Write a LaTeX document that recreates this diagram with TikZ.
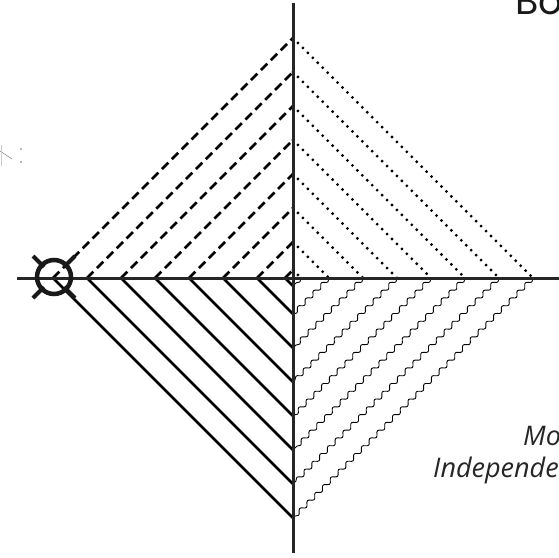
\documentclass[tikz,border=0pt]{standalone}
\usepackage{fontspec}
\setmainfont{Open Sans}
\newfontfamily\boFont{Poppins}
\usetikzlibrary{decorations.pathmorphing}
\tikzset{
 axisln/.style={line width=3pt, draw=black!85},
 solidln/.style={line width=2.5pt, draw=black},
 dashln/.style={line width=2.6pt, draw=black, dash pattern=on 9pt off 5pt},
 dotln/.style={line width=3.1pt, draw=black, line cap=round, dash pattern=on 0pt off 7pt},
 wavyln/.style={line width=0.9pt, draw=black, decorate, decoration={snake, amplitude=2pt, segment length=11pt}},
 markln/.style={line width=4pt, draw=black!90},
 labeltxt/.style={font=\fontsize{27}{32}\selectfont\itshape, text=black!85, inner sep=0pt, anchor=base west},
 faint/.style={draw=black!45, line width=0.6pt},
}
\begin{document}
\begin{tikzpicture}[x=1pt,y=-1pt]
\useasboundingbox (0,0) rectangle (559,557);
\clip (0,0) rectangle (559,557);
\coordinate (O) at (293,278);
\foreach \r [count=\i] in {8,36,70,104,138,172,206,240}{
  \coordinate (L\i) at (293-\r,278);
  \coordinate (T\i) at (293,278-\r);
  \coordinate (R\i) at (293+\r,278);
  \coordinate (B\i) at (293,278+\r);
  \draw[dashln] (L\i) -- (T\i);
  \draw[dotln] (T\i) -- (R\i);
  \draw[wavyln] (R\i) -- (B\i);
  \draw[solidln] (L\i) -- (B\i);
}
% axes
\coordinate (AxL) at (17,278);
\coordinate (AxR) at (562,278);
\coordinate (AxT) at (293,3);
\coordinate (AxB) at (293,553);
\draw[axisln] (AxL) -- (AxR);
\draw[axisln] (AxT) -- (AxB);
% target symbol
\node[circle, draw=black!90, line width=4.5pt, minimum size=34pt, inner sep=0pt] (target) at (54,277) {};
\coordinate (k1a) at (44,267); \coordinate (k1b) at (33,256);
\coordinate (k2a) at (44,287); \coordinate (k2b) at (33,298);
\coordinate (k3a) at (64,267); \coordinate (k3b) at (75,256);
\coordinate (k4a) at (64,287); \coordinate (k4b) at (75,298);
\draw[markln] (k1a) -- (k1b);
\draw[markln] (k2a) -- (k2b);
\draw[markln] (k3a) -- (k3b);
\draw[markln] (k4a) -- (k4b);
% faint marks at left
\coordinate (f1) at (0,151); \coordinate (f2) at (12,159);
\coordinate (f3) at (1,145); \coordinate (f4) at (1,166);
\draw[faint] (f1) -- (f2);
\draw[draw=black!20, line width=0.5pt] (f3) -- (f4);
\fill[black!55] (21,149) circle (0.8pt);
\fill[black!55] (21,162) circle (0.8pt);
% texts
\node[font=\boFont\fontsize{38}{38}\selectfont, text=black!90, inner sep=0pt, anchor=base west] (bo) at (515,14) {Bo};
\node[labeltxt] (mo) at (523,445) {Mo};
\node[labeltxt] (ind) at (433,477) {Independen};
\end{tikzpicture}
\end{document}
